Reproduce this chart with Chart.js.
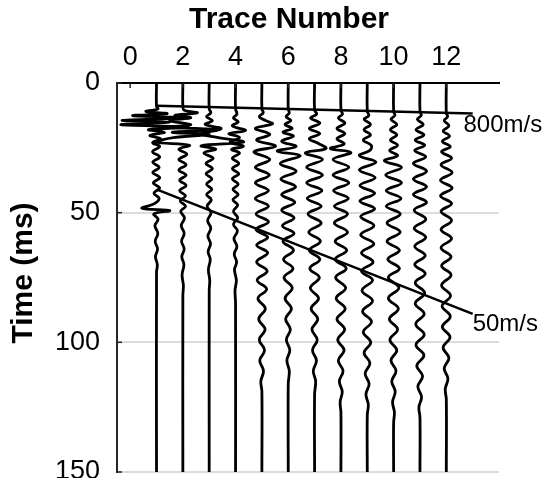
<!DOCTYPE html>
<html>
<head>
<meta charset="utf-8">
<script src="https://cdn.jsdelivr.net/npm/chart.js@4.4.1/dist/chart.umd.min.js"></script>
<style>
  html, body { margin: 0; padding: 0; background: #fff; }
  #wrap { width: 544px; height: 478px; }
</style>
</head>
<body>
<div id="wrap"><canvas id="chart" width="544" height="478"></canvas></div>
<script>
// axis ticks
const xTicks = [0, 2, 4, 6, 8, 10, 12];
const yTicks = [0, 50, 100, 150];

// trace positions (trace number)
const traceNumbers = [1, 2, 3, 4, 5, 6, 7, 8, 9, 10, 11, 12];

// each trace: [time (ms), deflection (trace units)]
const trace1 = [[0,0],[9,0],[10,0.05],[11,-0.4],[11.8,0.4],[12.6,-0.9],[13.4,1.1],[14.4,-1.3],[15.2,0.5],[16.1,-1.35],[17,1.2],[18,-0.3],[19,0.3],[20.2,-0.25],[21.5,0.15],[23,-0.15],[24.5,0.12],[26.5,-0.15],[28.5,0.12],[30.5,-0.14],[32.5,0.1],[34.5,-0.14],[36.5,0.12],[38.5,-0.12],[40.5,0.12],[42.5,-0.1],[44.5,0.1],[46.5,-0.08],[48.3,-0.55],[49.2,0.5],[50.5,-0.1],[52.5,0.06],[55,-0.06],[58,0.05],[61,-0.05],[64,0.04],[67,-0.04],[70,0.03],[73,0],[150,0]];
const trace2 = [[0,0],[9,0],[10.5,0.05],[11.5,0.55],[12.5,-0.3],[13.4,0.3],[14.5,-0.5],[16,0.3],[17,-0.4],[18,1.4],[19,-0.4],[19.8,1.0],[21,-0.3],[22.8,-1.0],[24,0.25],[25.5,-0.15],[27.5,0.15],[29.5,-0.15],[31.5,0.12],[33.5,-0.15],[35.5,0.12],[37.5,-0.12],[39.5,0.12],[41.5,-0.12],[43.5,0.1],[45.5,-0.1],[47.5,0.1],[49.5,-0.08],[52,0.06],[55,-0.06],[58,0.05],[61,-0.05],[64,0.05],[67,-0.04],[70,0.04],[74,-0.03],[78,0.02],[82,0],[150,0]];
const trace3 = [[0,0],[10,0],[11.5,0.06],[13,-0.1],[14.5,0.12],[16,-0.15],[17.6,0.45],[19.6,-0.3],[21,0.3],[22.8,1.3],[24.2,-0.3],[25.5,0.25],[27,-0.2],[29,0.15],[31,-0.12],[33,0.12],[35,-0.12],[37,0.1],[39,-0.1],[41,0.1],[43,-0.1],[45,0.08],[47.5,-0.08],[50,0.07],[53,-0.06],[56,0.06],[59,-0.05],[62,0.05],[65,-0.04],[68,0.04],[72,-0.03],[76,0.02],[80,0],[150,0]];
const trace4 = [[0,0],[10,0],[12,0.05],[13.5,-0.08],[15,0.1],[16.5,-0.12],[18.3,0.38],[19.5,-0.25],[21,0.15],[22.8,-0.2],[24.4,0.3],[25.6,-0.15],[27,0.15],[29,-0.12],[31,0.12],[33,-0.12],[35,0.12],[37,-0.12],[39,0.1],[41,-0.1],[43,0.1],[45,-0.1],[47,0.08],[49.5,-0.08],[52,0.08],[54.5,-0.08],[57,0.07],[60,-0.06],[63,0.05],[66,-0.05],[69,0.04],[72,-0.04],[76,0.03],[80,-0.02],[85,0],[150,0]];
const trace5 = [[0,0],[10,0],[11.5,0.05],[13,-0.1],[14.5,0.15],[15.8,0.4],[17.5,-0.25],[19.8,0.3],[22,-0.2],[24.4,0.52],[26.5,-0.3],[29.5,0.3],[32.5,-0.25],[35.5,0.28],[38.5,-0.25],[41.5,0.25],[44.5,-0.25],[47.5,0.25],[50.5,-0.22],[53.5,0.25],[56.5,-0.22],[59.5,0.22],[62.5,-0.2],[65.5,0.22],[69,-0.2],[72.5,0.2],[76,-0.18],[79.5,0.18],[83,-0.15],[87,0.13],[91,-0.12],[95,0.12],[99,-0.1],[103,0.1],[107,-0.08],[111,0.06],[115,-0.04],[119,0],[150,0]];
const trace6 = [[0,0],[10,0],[11.5,0.04],[13,-0.08],[14.5,0.1],[16,-0.12],[17.5,0.15],[19,-0.2],[20.5,0.2],[22.5,-0.25],[24.5,0.3],[26.3,-0.42],[28,0.45],[31,-0.3],[34,0.3],[37,-0.28],[40,0.28],[43,-0.25],[46,0.25],[49,-0.25],[52,0.22],[55,-0.22],[58,0.22],[61,-0.2],[64.5,0.2],[68,-0.18],[71.5,0.18],[75,-0.16],[79,0.15],[83,-0.12],[87,0.12],[91,-0.1],[95,0.08],[99,-0.07],[103,0.06],[107,-0.05],[111,0.04],[116,0],[150,0]];
const trace7 = [[0,0],[10.5,0],[12,0.08],[13.5,-0.15],[15.5,0.2],[17.5,-0.2],[19.5,0.2],[21.5,-0.2],[23.3,0.15],[25.3,0.43],[27,-0.35],[29.5,0.3],[32.5,-0.3],[35.5,0.3],[38.5,-0.3],[41.5,0.28],[44.5,-0.28],[47.5,0.25],[50.5,-0.25],[54,0.25],[57.5,-0.22],[61,0.22],[64.5,-0.2],[68,0.2],[71.5,-0.18],[75,0.18],[79,-0.16],[83,0.15],[87,-0.13],[91,0.12],[95,-0.1],[99,0.1],[103,-0.08],[107,0.07],[111,-0.05],[115,0.04],[120,0],[150,0]];
const trace8 = [[0,0],[10.5,0],[12,0.06],[13.5,-0.1],[15.5,0.15],[17.5,-0.15],[19.5,0.15],[21.5,-0.15],[23.5,0.12],[25.3,-0.4],[26.8,0.38],[29.5,-0.3],[32.5,0.3],[35.5,-0.3],[38.5,0.3],[41.5,-0.28],[44.5,0.28],[47.5,-0.25],[50.5,0.25],[54,-0.25],[57.5,0.25],[61,-0.22],[64.5,0.22],[68,-0.22],[71.5,0.2],[75,-0.2],[79,0.18],[83,-0.18],[87,0.16],[91,-0.15],[95,0.14],[99,-0.12],[103,0.12],[107,-0.1],[111,0.08],[115,-0.06],[119,0.05],[123,-0.03],[127,0],[150,0]];
const trace9 = [[0,0],[11,0],[12.5,0.06],[14,-0.12],[16,0.12],[18,-0.12],[20,0.12],[22,-0.15],[24,0.15],[26,0.1],[28,-0.3],[30.5,0.33],[33.5,-0.3],[36.5,0.3],[39.5,-0.28],[42.5,0.28],[45.5,-0.28],[48.5,0.28],[51.5,-0.25],[55,0.25],[58.5,-0.25],[62,0.25],[65.5,-0.22],[69,0.22],[72.5,-0.22],[76,0.2],[80,-0.2],[84,0.2],[88,-0.18],[92,0.16],[96,-0.15],[100,0.13],[104,-0.12],[108,0.1],[112,-0.08],[116,0.07],[120,-0.05],[124,0.04],[128,0],[150,0]];
const trace10 = [[0,0],[11,0],[12.5,0.05],[14,-0.1],[16,0.12],[18,-0.12],[20,0.12],[22,-0.12],[24,0.15],[26,-0.15],[28,0.15],[30,-0.35],[32.5,0.3],[35.5,-0.3],[38.5,0.3],[41.5,-0.28],[44.5,0.28],[47.5,-0.28],[50.5,0.25],[54,-0.25],[57.5,0.25],[61,-0.25],[64.5,0.22],[68,-0.22],[71.5,0.22],[75,-0.2],[79,0.2],[83,-0.2],[87,0.18],[91,-0.16],[95,0.15],[99,-0.14],[103,0.12],[107,-0.1],[111,0.09],[115,-0.07],[119,0.06],[123,-0.04],[127,0.03],[131,0],[150,0]];
const trace11 = [[0,0],[11,0],[12.5,0.05],[14,-0.1],[16,0.12],[18,-0.15],[20,0.15],[22,-0.18],[24,0.18],[26,-0.2],[28.5,0.22],[31,-0.25],[34,0.25],[37,-0.25],[40,0.25],[43,-0.25],[46,0.25],[49,-0.22],[52.5,0.22],[56,-0.22],[59.5,0.22],[63,-0.2],[66.5,0.2],[70,-0.2],[73.5,0.2],[77,-0.18],[81,0.18],[85,-0.18],[89,0.16],[93,-0.16],[97,0.16],[101,-0.15],[105,0.15],[109,-0.12],[113,0.1],[117,-0.08],[121,0.06],[125,-0.04],[129,0],[150,0]];
const trace12 = [[0,0],[11.5,0],[13,0.05],[14.5,-0.08],[16.5,0.1],[18.5,-0.12],[20.5,0.12],[22.5,-0.15],[24.5,0.15],[26.5,-0.18],[29,0.2],[31.5,-0.2],[34.5,0.22],[37.5,-0.22],[40.5,0.22],[43.5,-0.22],[46.5,0.2],[49.5,-0.2],[53,0.2],[56.5,-0.2],[60,0.2],[63.5,-0.2],[67,0.18],[70.5,-0.18],[74,0.18],[78,-0.18],[82,0.16],[86,-0.16],[90,0.15],[94,-0.15],[98,0.14],[102,-0.12],[106,0.1],[110,-0.08],[114,0.06],[118,-0.04],[122,0],[150,0]];
const traces = [trace1, trace2, trace3, trace4, trace5, trace6, trace7, trace8, trace9, trace10, trace11, trace12];

// velocity lines: [trace number, time]
const line800 = [[1, 8.8], [13, 11.8]];
const line50 = [[1, 41], [13, 89]];
const lineLabels = [
  { text: '800m/s', x: 12.65, y: 16.3 },
  { text: '50m/s', x: 13.0, y: 93 }
];

const FONT = '"Liberation Sans", Arial, Helvetica, sans-serif';

const datasets = [];
traces.forEach(function(tr, i) {
  datasets.push({
    data: tr.map(p => ({ x: traceNumbers[i] + p[1], y: p[0] })),
    showLine: true,
    borderColor: '#000',
    borderWidth: 2.8,
    pointRadius: 0,
    tension: 0.4
  });
});
[line800, line50].forEach(function(l) {
  datasets.push({
    data: l.map(p => ({ x: p[0], y: p[1] })),
    showLine: true,
    borderColor: '#000',
    borderWidth: 2.5,
    pointRadius: 0,
    tension: 0
  });
});

// axis titles, inward tick marks and the line labels
const extras = {
  id: 'extras',
  afterDraw(chart) {
    const ctx = chart.ctx;
    const xs = chart.scales.x, ys = chart.scales.y;
    const area = chart.chartArea;
    ctx.save();
    ctx.strokeStyle = '#262626';
    ctx.lineWidth = 1.5;
    xTicks.forEach(v => {
      const px = xs.getPixelForValue(v);
      ctx.beginPath(); ctx.moveTo(px, area.top); ctx.lineTo(px, area.top + 5); ctx.stroke();
    });
    yTicks.forEach(v => {
      const py = ys.getPixelForValue(v);
      ctx.beginPath(); ctx.moveTo(area.left, py); ctx.lineTo(area.left + 5, py); ctx.stroke();
    });

    ctx.fillStyle = '#000';
    ctx.font = '24px ' + FONT;
    ctx.textAlign = 'left';
    ctx.textBaseline = 'middle';
    lineLabels.forEach(l => {
      ctx.fillText(l.text, xs.getPixelForValue(l.x), ys.getPixelForValue(l.y));
    });

    ctx.font = 'bold 30px ' + FONT;
    ctx.textAlign = 'center';
    ctx.fillText('Trace Number', 289, 20);
    ctx.translate(24, 273);
    ctx.rotate(-Math.PI / 2);
    ctx.fillText('Time (ms)', 0, 0);
    ctx.restore();
  }
};

new Chart(document.getElementById('chart'), {
  type: 'scatter',
  data: { datasets: datasets },
  options: {
    responsive: false,
    animation: false,
    layout: { padding: { left: 0, top: 0, right: 45, bottom: 6 } },
    plugins: { legend: { display: false }, tooltip: { enabled: false } },
    scales: {
      x: {
        type: 'linear',
        position: 'top',
        min: -0.5,
        max: 14,
        afterBuildTicks: s => { s.ticks = xTicks.map(v => ({ value: v })); },
        afterFit: s => { s.height = 83; s.paddingLeft = 0; s.paddingRight = 0; },
        ticks: { font: { family: FONT, size: 27 }, color: '#000', padding: 9, maxRotation: 0 },
        grid: { display: false, drawTicks: false },
        border: { display: true, color: '#000', width: 2 }
      },
      y: {
        type: 'linear',
        reverse: true,
        min: 0,
        max: 150,
        afterBuildTicks: s => { s.ticks = yTicks.map(v => ({ value: v })); },
        afterFit: s => { s.width = 117; s.paddingTop = 0; s.paddingBottom = 0; },
        ticks: { font: { family: FONT, size: 27 }, color: '#000', padding: 17 },
        grid: {
          drawTicks: false,
          lineWidth: 2,
          color: c => (c.tick && c.tick.value === 0) ? 'rgba(0,0,0,0)' : '#dcdcdc'
        },
        border: { display: true, color: '#262626', width: 2 }
      }
    }
  },
  plugins: [extras]
});
</script>
</body>
</html>
